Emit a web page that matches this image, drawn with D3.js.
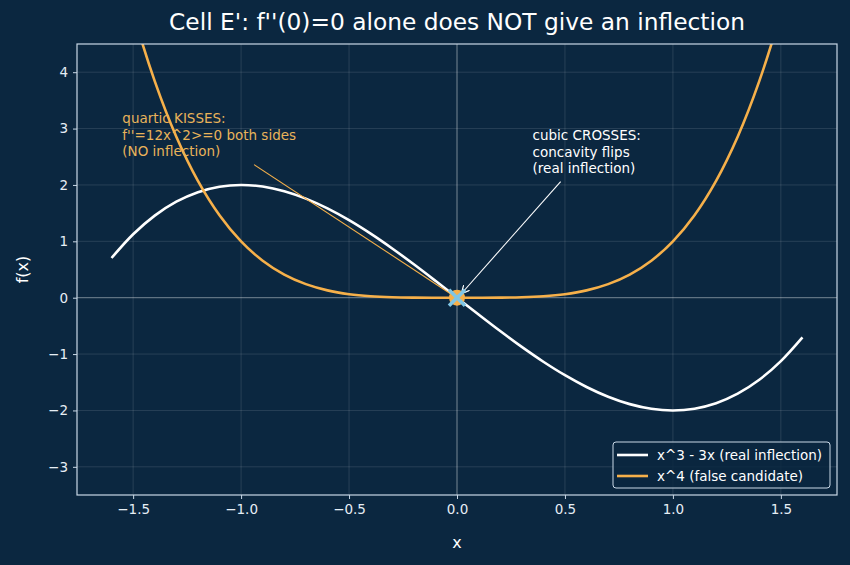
<!DOCTYPE html>
<html>
<head>
<meta charset="utf-8">
<script src="https://cdn.jsdelivr.net/npm/d3@7"></script>
<style>
  html, body { margin: 0; padding: 0; background: #0b2740; }
  svg { display: block; font-family: "DejaVu Sans", sans-serif; }
</style>
</head>
<body>
<div id="chart"></div>
<script>
const xValues = [-1.6, -1.5, -1.4, -1.3, -1.2, -1.1, -1.0, -0.9, -0.8, -0.7, -0.6, -0.5, -0.4, -0.3, -0.2, -0.1, 0,
    0.1, 0.2, 0.3, 0.4, 0.5, 0.6, 0.7, 0.8, 0.9, 1.0, 1.1, 1.2, 1.3, 1.4, 1.5, 1.6];
const cubicValues = [0.704, 1.125, 1.456, 1.703, 1.872, 1.969, 2.0, 1.971, 1.888, 1.757, 1.584, 1.375, 1.136, 0.873, 0.592, 0.299, 0,
    -0.299, -0.592, -0.873, -1.136, -1.375, -1.584, -1.757, -1.888, -1.971, -2.0, -1.969, -1.872, -1.703, -1.456, -1.125, -0.704];
const quarticValues = [6.5536, 5.0625, 3.8416, 2.8561, 2.0736, 1.4641, 1.0, 0.6561, 0.4096, 0.2401, 0.1296, 0.0625, 0.0256, 0.0081, 0.0016, 0.0001, 0,
    0.0001, 0.0016, 0.0081, 0.0256, 0.0625, 0.1296, 0.2401, 0.4096, 0.6561, 1.0, 1.4641, 2.0736, 2.8561, 3.8416, 5.0625, 6.5536];
const xTicks = [-1.5, -1.0, -0.5, 0.0, 0.5, 1.0, 1.5];
const yTicks = [-3, -2, -1, 0, 1, 2, 3, 4];
const seriesNames = ['x^3 - 3x (real inflection)', 'x^4 (false candidate)'];
const quarticNote = ['quartic KISSES:', "f''=12x^2>=0 both sides", '(NO inflection)'];
const cubicNote = ['cubic CROSSES:', 'concavity flips', '(real inflection)'];

const width = 850, height = 565;
const margin = {top: 44, right: 13, bottom: 70, left: 77};
const bg = '#0b2740';
const white = '#ffffff';
const orange = '#f6b04a';
const spine = '#c9d8e6';
const tickText = '#e6eef5';

const svg = d3.select('#chart').append('svg')
    .attr('width', width)
    .attr('height', height);

svg.append('rect').attr('width', width).attr('height', height).attr('fill', bg);

const xScale = d3.scaleLinear().domain([-1.76, 1.76]).range([margin.left, width - margin.right]);
const yScale = d3.scaleLinear().domain([-3.5, 4.5]).range([height - margin.bottom, margin.top]);

svg.append('defs').append('clipPath')
    .attr('id', 'clip')
    .append('rect')
    .attr('x', margin.left).attr('y', margin.top)
    .attr('width', width - margin.left - margin.right)
    .attr('height', height - margin.top - margin.bottom);

// grid
const grid = svg.append('g');
grid.selectAll('.gx').data(xTicks).enter().append('line')
    .attr('x1', d => xScale(d)).attr('x2', d => xScale(d))
    .attr('y1', margin.top).attr('y2', height - margin.bottom)
    .attr('stroke', '#ffffff').attr('stroke-opacity', 0.15).attr('stroke-width', 0.8);
grid.selectAll('.gy').data(yTicks).enter().append('line')
    .attr('y1', d => yScale(d)).attr('y2', d => yScale(d))
    .attr('x1', margin.left).attr('x2', width - margin.right)
    .attr('stroke', '#ffffff').attr('stroke-opacity', 0.15).attr('stroke-width', 0.8);

// zero lines
grid.append('line')
    .attr('x1', margin.left).attr('x2', width - margin.right)
    .attr('y1', yScale(0)).attr('y2', yScale(0))
    .attr('stroke', '#ffffff').attr('stroke-opacity', 0.45).attr('stroke-width', 0.8);
grid.append('line')
    .attr('x1', xScale(0)).attr('x2', xScale(0))
    .attr('y1', margin.top).attr('y2', height - margin.bottom)
    .attr('stroke', '#ffffff').attr('stroke-opacity', 0.45).attr('stroke-width', 0.8);

// axes
const fmtX = d => d3.format('.1f')(d).replace('-', '\u2212');
const fmtY = d => String(d).replace('-', '\u2212');

const gX = svg.append('g')
    .attr('transform', `translate(0,${height - margin.bottom})`)
    .call(d3.axisBottom(xScale).tickValues(xTicks).tickFormat(fmtX).tickSize(4).tickSizeOuter(0).tickPadding(5));
const gY = svg.append('g')
    .attr('transform', `translate(${margin.left},0)`)
    .call(d3.axisLeft(yScale).tickValues(yTicks).tickFormat(fmtY).tickSize(4).tickSizeOuter(0).tickPadding(5));
[gX, gY].forEach(g => {
    g.select('.domain').remove();
    g.selectAll('.tick line').attr('stroke', spine);
    g.selectAll('.tick text').attr('fill', tickText).style('font-size', '13.5px').style('font-family', '"DejaVu Sans", sans-serif');
});

// curves
const line = d3.line()
    .x(d => xScale(d[0]))
    .y(d => yScale(d[1]))
    .curve(d3.curveCatmullRom);

const curves = svg.append('g').attr('clip-path', 'url(#clip)');
curves.append('path')
    .datum(xValues.map((x, i) => [x, cubicValues[i]]))
    .attr('d', line)
    .attr('fill', 'none').attr('stroke', white).attr('stroke-width', 2.6);
curves.append('path')
    .datum(xValues.map((x, i) => [x, quarticValues[i]]))
    .attr('d', line)
    .attr('fill', 'none').attr('stroke', orange).attr('stroke-width', 2.6);

// annotations
const defs = svg.select('defs');
defs.append('marker')
    .attr('id', 'arrowW')
    .attr('viewBox', '0 0 10 10').attr('refX', 10).attr('refY', 5)
    .attr('markerWidth', 8).attr('markerHeight', 8).attr('orient', 'auto')
    .attr('markerUnits', 'userSpaceOnUse')
    .append('path').attr('d', 'M0,0L10,5L0,10').attr('fill', 'none').attr('stroke', white).attr('stroke-width', 1.5);

svg.append('line')
    .attr('x1', xScale(-0.94)).attr('y1', yScale(2.36))
    .attr('x2', xScale(-0.03)).attr('y2', yScale(0.07))
    .attr('stroke', orange).attr('stroke-width', 1.1);
svg.append('line')
    .attr('x1', xScale(0.48)).attr('y1', yScale(2.06))
    .attr('x2', xScale(0.02)).attr('y2', yScale(0.07))
    .attr('stroke', white).attr('stroke-width', 1.1)
    .attr('marker-end', 'url(#arrowW)');

// candidate point at origin
const pointG = svg.append('g');
pointG.append('circle')
    .attr('cx', xScale(0)).attr('cy', yScale(0)).attr('r', 8)
    .attr('fill', orange);
const mk = 8;
pointG.append('path')
    .attr('d', `M${xScale(0) - mk},${yScale(0) - mk}L${xScale(0) + mk},${yScale(0) + mk}M${xScale(0) - mk},${yScale(0) + mk}L${xScale(0) + mk},${yScale(0) - mk}`)
    .attr('stroke', '#7fc6e6').attr('stroke-width', 3.5);

// spines
svg.append('rect')
    .attr('x', margin.left).attr('y', margin.top)
    .attr('width', width - margin.left - margin.right)
    .attr('height', height - margin.top - margin.bottom)
    .attr('fill', 'none').attr('stroke', spine).attr('stroke-width', 1.2);

svg.append('text')
    .attr('fill', '#e8b35a').style('font-size', '13.5px')
    .selectAll('tspan').data(quarticNote).enter().append('tspan')
    .attr('x', xScale(-1.55)).attr('y', (d, i) => 123 + i * 16.5)
    .text(d => d);
svg.append('text')
    .attr('fill', white).style('font-size', '13.5px')
    .selectAll('tspan').data(cubicNote).enter().append('tspan')
    .attr('x', xScale(0.35)).attr('y', (d, i) => 140 + i * 16.5)
    .text(d => d);

// title and axis labels
svg.append('text')
    .attr('x', (margin.left + width - margin.right) / 2).attr('y', 30)
    .attr('text-anchor', 'middle').attr('fill', white)
    .style('font-size', '23.3px')
    .text("Cell E': f''(0)=0 alone does NOT give an inflection");
svg.append('text')
    .attr('x', (margin.left + width - margin.right) / 2).attr('y', 548)
    .attr('text-anchor', 'middle').attr('fill', white)
    .style('font-size', '16px')
    .text('x');
svg.append('text')
    .attr('transform', `translate(28,${(margin.top + height - margin.bottom) / 2}) rotate(-90)`)
    .attr('text-anchor', 'middle').attr('fill', white)
    .style('font-size', '16px')
    .text('f(x)');

// legend
const legend = svg.append('g').attr('transform', 'translate(613,442)');
legend.append('rect')
    .attr('width', 217).attr('height', 46).attr('rx', 3)
    .attr('fill', bg).attr('fill-opacity', 0.85)
    .attr('stroke', spine).attr('stroke-width', 1);
const legendColors = [white, orange];
seriesNames.forEach((name, i) => {
    const y = 13 + i * 21;
    legend.append('line')
        .attr('x1', 4).attr('x2', 35).attr('y1', y).attr('y2', y)
        .attr('stroke', legendColors[i]).attr('stroke-width', 2.6);
    legend.append('text')
        .attr('x', 44).attr('y', y + 5)
        .attr('fill', white).style('font-size', '13.5px')
        .text(name);
});
</script>
</body>
</html>
